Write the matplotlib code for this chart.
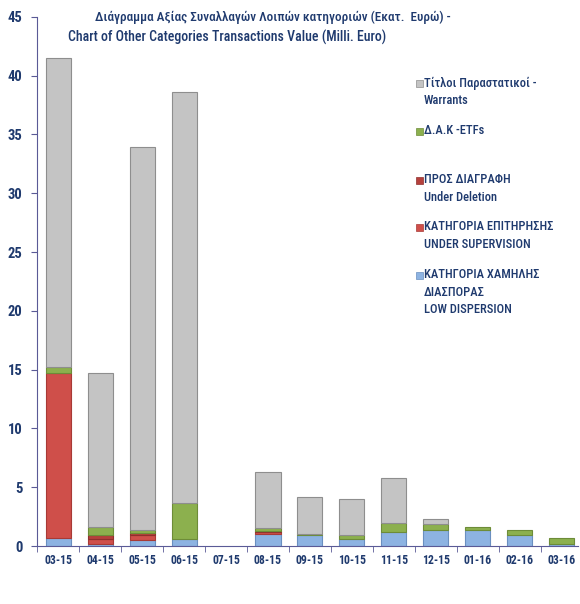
import numpy as np
import matplotlib.pyplot as plt
from matplotlib import font_manager

fams = set(f.name for f in font_manager.fontManager.ttflist)
base = 'DejaVu Sans'
for cand in ['Liberation Sans Narrow', 'Roboto Condensed', 'Open Sans Condensed', 'Roboto']:
    if cand in fams:
        base = cand
        break
plt.rcParams['font.family'] = [base, 'DejaVu Sans']

months = ['03-15', '04-15', '05-15', '06-15', '07-15', '08-15', '09-15',
          '10-15', '11-15', '12-15', '01-16', '02-16', '03-16']
low_disp = [0.7, 0.2, 0.5, 0.6, 0, 1.0, 0.9, 0.6, 1.2, 1.4, 1.4, 0.9, 0.2]
supervision = [14.0, 0.4, 0.4, 0, 0, 0.2, 0, 0, 0, 0, 0, 0, 0]
deletion = [0, 0.3, 0.2, 0, 0, 0.1, 0, 0, 0, 0, 0, 0, 0]
etfs = [0.5, 0.7, 0.3, 3.1, 0, 0.2, 0.1, 0.3, 0.8, 0.5, 0.2, 0.5, 0.5]
warrants = [26.3, 13.1, 32.5, 34.9, 0, 4.8, 3.2, 3.1, 3.8, 0.4, 0, 0, 0]

navy = '#1f3a6e'
series = [
    (low_disp, '#8db3e2', '#6a8fc0', 'ΚΑΤΗΓΟΡΙΑ ΧΑΜΗΛΗΣ\nΔΙΑΣΠΟΡΑΣ\nLOW DISPERSION'),
    (supervision, '#cf4f4a', '#a83a36', 'ΚΑΤΗΓΟΡΙΑ ΕΠΙΤΗΡΗΣΗΣ\nUNDER SUPERVISION'),
    (deletion, '#b5403c', '#8f302d', 'ΠΡΟΣ ΔΙΑΓΡΑΦΗ\nUnder Deletion'),
    (etfs, '#8cb04e', '#6d8c38', 'Δ.Α.Κ -ETFs'),
    (warrants, '#c4c4c4', '#8e8e8e', 'Τίτλοι Παραστατικοί -\nWarrants'),
]

fig = plt.figure(figsize=(5.8, 6.04), dpi=100)
ax = fig.add_axes([0.063, 0.096, 0.934, 0.876])

x = np.arange(len(months))
bottom = np.zeros(len(months))
for vals, col, edge, lab in series:
    v = np.array(vals, dtype=float)
    lw = np.where(v > 0, 0.8, 0.0)
    ax.bar(x, v, 0.6, bottom=bottom, color=col, edgecolor=edge, linewidth=lw)
    bottom += v

ax.set_xlim(-0.52, 12.4)
ax.set_ylim(0, 45)
ax.set_yticks(range(0, 46, 5))
ax.set_xticks(x)
ax.set_xticklabels(months)
ax.set_xticks(np.arange(-0.5, 12.5, 1), minor=True)
ax.tick_params(axis='x', which='major', length=0, pad=6, labelsize=8.5, colors=navy)
ax.tick_params(axis='x', which='minor', length=4, color='#5a5a96', direction='out')
ax.tick_params(axis='y', length=4, color='#5a5a96', labelsize=10.5, colors=navy, pad=6)
for t in ax.get_xticklabels() + ax.get_yticklabels():
    t.set_fontweight('bold')
for s in ['top', 'right']:
    ax.spines[s].set_visible(False)
for s in ['left', 'bottom']:
    ax.spines[s].set_color('#5a5a96')

fig.text(95 / 580, 1 - 17 / 604, 'Διάγραμμα Αξίας Συναλλαγών Λοιπών κατηγοριών (Εκατ.  Ευρώ) -',
         ha='left', va='center', fontsize=9.5, color=navy, fontweight='medium')
fig.text(68 / 580, 1 - 37 / 604, 'Chart of Other Categories Transactions Value (Milli. Euro)',
         ha='left', va='center', fontsize=10, color=navy, fontweight='medium')

# legend, top to bottom
leg_y = [83, 131, 180, 227, 275]
for (vals, col, edge, lab), py in zip(series[::-1], leg_y):
    fy = 1 - py / 604
    fig.patches.append(plt.Rectangle((416 / 580, fy - 0.006), 7 / 580, 7 / 604,
                                     transform=fig.transFigure, facecolor=col,
                                     edgecolor=edge, linewidth=0.5))
    fig.text(424 / 580, fy + 0.011, lab, ha='left', va='top', fontsize=9,
             color=navy, linespacing=1.45, fontweight='medium')

fig.savefig('out.png', dpi=100)
